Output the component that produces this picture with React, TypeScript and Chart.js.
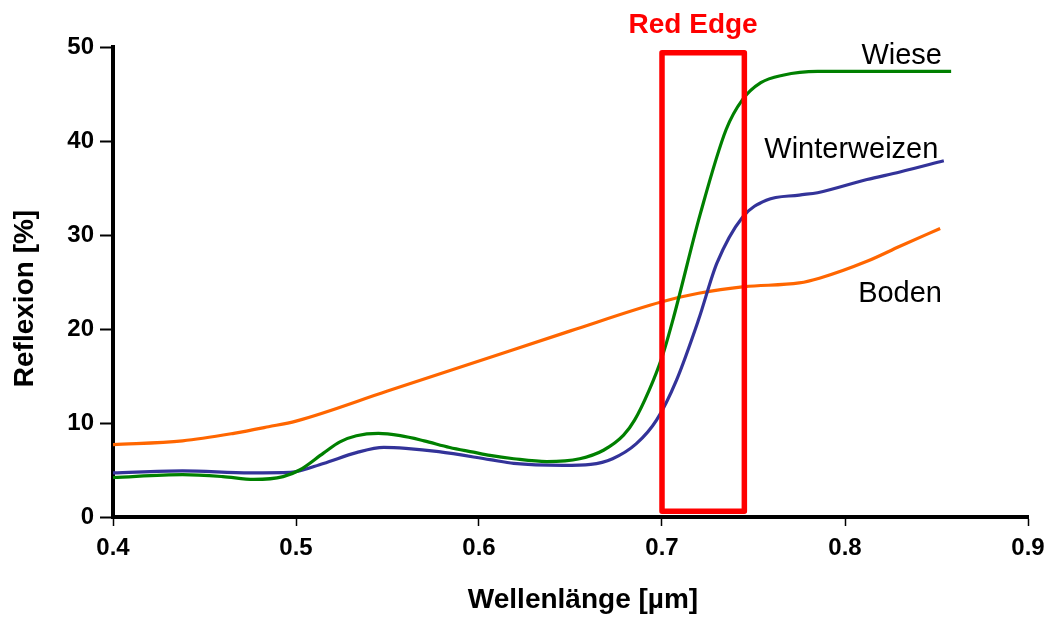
import React, { useEffect, useRef } from "react";
import { Chart, registerables } from "chart.js";

Chart.register(...registerables);

// Wavelength [µm] / reflectance [%] pairs
const wieseX = [0.400, 0.438, 0.460, 0.477, 0.493, 0.502, 0.515, 0.524, 0.533, 0.545, 0.557, 0.570, 0.584, 0.597, 0.606, 0.619, 0.637, 0.655, 0.668, 0.679, 0.685, 0.693, 0.700, 0.706, 0.721, 0.735, 0.744, 0.754, 0.766, 0.785, 0.858];
const wieseY = [4.2, 4.5, 4.3, 4.0, 4.3, 5.0, 6.8, 8.0, 8.65, 8.9, 8.65, 8.1, 7.4, 6.9, 6.55, 6.2, 5.9, 6.2, 7.1, 8.7, 10.3, 13.5, 17.0, 21.0, 32.3, 41.2, 44.4, 46.2, 47.0, 47.4, 47.4];

const weizenX = [0.400, 0.438, 0.475, 0.497, 0.515, 0.533, 0.548, 0.560, 0.578, 0.606, 0.619, 0.646, 0.661, 0.673, 0.686, 0.697, 0.708, 0.720, 0.730, 0.744, 0.757, 0.775, 0.785, 0.812, 0.830, 0.854];
const weizenY = [4.7, 4.9, 4.7, 4.75, 5.7, 6.85, 7.4, 7.3, 6.95, 6.1, 5.7, 5.5, 5.6, 6.2, 7.8, 10.3, 14.6, 21.0, 27.0, 31.9, 33.7, 34.25, 34.5, 35.9, 36.7, 37.9];

const bodenX = [0.400, 0.438, 0.466, 0.485, 0.500, 0.550, 0.600, 0.650, 0.700, 0.720, 0.745, 0.775, 0.786, 0.812, 0.830, 0.852];
const bodenY = [7.7, 8.1, 8.9, 9.6, 10.2, 13.4, 16.6, 19.8, 22.9, 23.8, 24.5, 24.9, 25.4, 27.2, 28.8, 30.7];

const seriesNames = ["Wiese", "Winterweizen", "Boden"];
const seriesColors = ["#008000", "#333399", "#ff6600"];

const redEdgeX = [0.7, 0.745];
const redEdgeY = [0.6, 49.4];
const redEdgeLabel = "Red Edge";

const xTitle = "Wellenlänge [µm]";
const yTitle = "Reflexion [%]";

const FONT = '"Liberation Sans", Arial, Helvetica, sans-serif';

function toPoints(xs: number[], ys: number[]) {
  return xs.map((x, i) => ({ x, y: ys[i] }));
}

const annotationPlugin = {
  id: "annotations",
  afterDatasetsDraw(chart: any) {
    const ctx = chart.ctx as CanvasRenderingContext2D;
    const xs = chart.scales.x;
    const ys = chart.scales.y;
    ctx.save();
    // Red edge box
    const x0 = xs.getPixelForValue(redEdgeX[0]);
    const x1 = xs.getPixelForValue(redEdgeX[1]);
    const y0 = ys.getPixelForValue(redEdgeY[0]);
    const y1 = ys.getPixelForValue(redEdgeY[1]);
    ctx.strokeStyle = "#ff0000";
    ctx.lineWidth = 5.5;
    ctx.lineJoin = "round";
    ctx.strokeRect(x0, y1, x1 - x0, y0 - y1);

    ctx.fillStyle = "#ff0000";
    ctx.font = `bold 28px ${FONT}`;
    ctx.textAlign = "center";
    ctx.textBaseline = "alphabetic";
    ctx.fillText(redEdgeLabel, xs.getPixelForValue(0.717), ys.getPixelForValue(51.46));

    // Series labels
    ctx.fillStyle = "#000000";
    ctx.font = `29px ${FONT}`;
    ctx.textAlign = "right";
    ctx.fillText(seriesNames[0], xs.getPixelForValue(0.853), ys.getPixelForValue(48.2));
    ctx.fillText(seriesNames[1], xs.getPixelForValue(0.851), ys.getPixelForValue(38.2));
    ctx.fillText(seriesNames[2], xs.getPixelForValue(0.853), ys.getPixelForValue(22.9));

    // Axis titles
    ctx.font = `bold 28px ${FONT}`;
    ctx.textAlign = "center";
    ctx.fillText(xTitle, 583, 608);
    ctx.translate(33, 298.5);
    ctx.rotate(-Math.PI / 2);
    ctx.font = `bold 28px ${FONT}`;
    ctx.fillText(yTitle, 0, 0);
    ctx.restore();
  },
};

export default function App() {
  const canvasRef = useRef<HTMLCanvasElement | null>(null);

  useEffect(() => {
    document.body.style.margin = "0";
    const canvas = canvasRef.current;
    if (!canvas) return;
    const datasets = [
      toPoints(wieseX, wieseY),
      toPoints(weizenX, weizenY),
      toPoints(bodenX, bodenY),
    ].map((data, i) => ({
      label: seriesNames[i],
      data,
      borderColor: seriesColors[i],
      backgroundColor: seriesColors[i],
      borderWidth: 3.2,
      pointRadius: 0,
      tension: 0.4,
      cubicInterpolationMode: "monotone" as const,
      fill: false,
    }));

    const chart = new Chart(canvas, {
      type: "line",
      data: { datasets },
      options: {
        animation: false,
        responsive: false,
        devicePixelRatio: 1,
        layout: { padding: { left: 0, right: 22, top: 47, bottom: 0 } },
        plugins: { legend: { display: false }, tooltip: { enabled: false }, title: { display: false } },
        scales: {
          x: {
            type: "linear",
            min: 0.4,
            max: 0.9,
            border: { display: true, color: "#000", width: 4 },
            grid: { display: true, drawOnChartArea: false, drawTicks: true, tickLength: 9, tickWidth: 1.5, tickColor: "#000" },
            ticks: {
              stepSize: 0.1,
              color: "#000",
              padding: 8,
              maxRotation: 0,
              font: { family: FONT, size: 24, weight: "bold" },
              callback: (v: any) => Number(v).toFixed(1),
            },
            afterFit: (scale: any) => {
              scale.height = 105;
              scale.paddingRight = 0;
              scale.paddingLeft = 0;
            },
          },
          y: {
            type: "linear",
            min: 0,
            max: 50,
            border: { display: true, color: "#000", width: 4 },
            grid: { display: true, drawOnChartArea: false, drawTicks: true, tickLength: 13, tickWidth: 2, tickColor: "#000" },
            ticks: {
              stepSize: 10,
              color: "#000",
              padding: 6,
              font: { family: FONT, size: 24, weight: "bold" },
            },
            afterFit: (scale: any) => {
              scale.width = 113;
              scale.paddingTop = 0;
              scale.paddingBottom = 0;
            },
          },
        },
      },
      plugins: [annotationPlugin],
    });
    return () => chart.destroy();
  }, []);

  return (
    <div style={{ position: "fixed", left: 0, top: 0, width: 1050, height: 622, background: "#fff" }}>
      <canvas ref={canvasRef} width={1050} height={622} />
    </div>
  );
}
